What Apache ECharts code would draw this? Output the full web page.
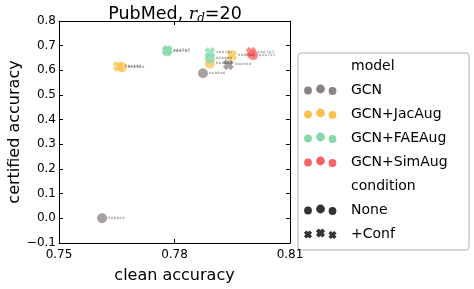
<!DOCTYPE html>
<html><head><meta charset="utf-8">
<script src="https://cdn.jsdelivr.net/npm/echarts@6/dist/echarts.min.js"></script>
<style>html,body{margin:0;padding:0;background:#fff}#c{width:474px;height:289px}</style>
</head><body><div id="c"></div>
<script>
const models = ['GCN','GCN+JacAug','GCN+FAEAug','GCN+SimAug'];
const modelColors = ['#8c8282','#fbc14d','#84d8aa','#f86464'];
const conditions = ['None','+Conf'];
// [clean accuracy, certified accuracy]
const gcnNone = [[0.7612,0.0],[0.7874,0.588]];
const gcnConf = [[0.7940,0.623]];
const jacNone = [[0.7664,0.612],[0.7892,0.627]];
const jacConf = [[0.7654,0.616],[0.7949,0.660]];
const faeNone = [[0.7781,0.677],[0.7892,0.648]];
const faeConf = [[0.7781,0.681],[0.7892,0.672]];
const simNone = [[0.8004,0.661]];
const simConf = [[0.7999,0.673]];
const xTicks = [0.75,0.78,0.81];
const yTicks = [-0.1,0.0,0.1,0.2,0.3,0.4,0.5,0.6,0.7,0.8];

const XPTS = [[0,3],[3,0],[5,2],[7,0],[10,3],[8,5],[10,7],[7,10],[5,8],[3,10],[0,7],[2,5]];
const XPATH = 'path://M' + XPTS.map(p=>p[0]+' '+p[1]).join(' L') + ' Z';
const groups = [
  [gcnNone,0,0],[gcnConf,0,1],[jacNone,1,0],[jacConf,1,1],
  [faeNone,2,0],[faeConf,2,1],[simNone,3,0],[simConf,3,1]
];
const F = 'DejaVu Sans';
const series = groups.map(([d,m,c]) => ({
  type:'scatter', data:d, xAxisIndex:0, yAxisIndex:0,
  symbol: c===0 ? 'circle' : XPATH,
  symbolSize: c===0 ? 10 : 11,
  itemStyle:{color:modelColors[m], opacity:0.75},
  label:{show:true, position:'right', distance:1, fontSize:3, color:'#000', fontFamily:F,
    formatter:p=>p.value[0].toFixed(1)+','+p.value[1].toFixed(1)+'.'+p.value[1].toFixed(1)}
}));

const axisBase = {
  type:'value', splitLine:{show:false},
  axisLine:{show:true, onZero:false, lineStyle:{color:'#000', width:1}},
  axisTick:{show:true, inside:true, length:4, lineStyle:{color:'#000'}}
};
const fmtMinus = v => (v<0?'\u2212':'') + Math.abs(v).toFixed(1);

const graphic = [];
const lx = 298, ly = 53, lw = 171, lh = 197;
graphic.push({type:'rect', shape:{x:lx,y:ly,width:lw,height:lh,r:3}, style:{fill:'#fff',stroke:'#b0b0b0',lineWidth:1}});
const rowY = [66,90,114,138,162,186,210,234];
const txt = (t,y) => ({type:'text', x:351, y:y, style:{text:t, fill:'#000', font:'14px "DejaVu Sans"', verticalAlign:'middle'}});
const markerX = [308,320.5,332.5], markerDy = [0.5,-1,1], markerR = [3.9,4.4,3.9];
function markers(y, color, isX){
  markerX.forEach((x,i)=>{
    if(!isX) graphic.push({type:'circle', shape:{cx:x, cy:y+markerDy[i], r:markerR[i]}, style:{fill:color}});
    else {
      const s = markerR[i]*2.1/10;
      const pts = XPTS.map(p=>[x + (p[0]-5)*s, y+markerDy[i] + (p[1]-5)*s]);
      graphic.push({type:'polygon', shape:{points:pts}, style:{fill:color}});
    }
  });
}
graphic.push(txt('model', rowY[0]));
models.forEach((m,i)=>{ markers(rowY[i+1], modelColors[i], false); graphic.push(txt(m,rowY[i+1])); });
graphic.push(txt('condition', rowY[5]));
conditions.forEach((c,i)=>{ markers(rowY[6+i], '#333333', i===1); graphic.push(txt(c,rowY[6+i])); });

const chart = echarts.init(document.getElementById('c'), null, {renderer:'canvas'});
chart.setOption({
  animation:false,
  backgroundColor:'#fff',
  title:{
    text:'{n|PubMed, }{i|r}{s|d}{n|=20}', left:170, textAlign:'center', top:-2,
    textStyle:{fontWeight:'normal', rich:{
      n:{fontFamily:F, fontSize:17.5, fontWeight:'normal', color:'#000'},
      i:{fontFamily:'DejaVu Serif', fontStyle:'italic', fontWeight:'normal', fontSize:17.5, color:'#000'},
      s:{fontFamily:'DejaVu Serif', fontStyle:'italic', fontWeight:'normal', fontSize:12, color:'#000', padding:[10,0,0,0]}
    }}
  },
  grid:{left:59, right:184, top:21, bottom:41, containLabel:false},
  xAxis:[
    Object.assign({}, axisBase, {position:'bottom', min:xTicks[0], max:xTicks[xTicks.length-1], interval:0.03,
      name:'clean accuracy', nameLocation:'middle', nameGap:25,
      nameTextStyle:{fontFamily:F, fontSize:16, color:'#000'},
      axisLabel:{fontFamily:F, fontSize:12, color:'#000', margin:6, formatter:v=>v.toFixed(2), showMaxLabel:true, showMinLabel:true}}),
    Object.assign({}, axisBase, {position:'top', min:xTicks[0], max:xTicks[xTicks.length-1], interval:0.03, axisLabel:{show:false}})
  ],
  yAxis:[
    Object.assign({}, axisBase, {position:'left', min:yTicks[0], max:yTicks[yTicks.length-1], interval:0.1,
      name:'certified accuracy', nameLocation:'middle', nameGap:34,
      nameTextStyle:{fontFamily:F, fontSize:16, color:'#000'},
      axisLabel:{fontFamily:F, fontSize:12, color:'#000', margin:3, formatter:fmtMinus}}),
    Object.assign({}, axisBase, {position:'right', min:yTicks[0], max:yTicks[yTicks.length-1], interval:0.1, axisLabel:{show:false}})
  ],
  series: series,
  graphic: graphic
});
</script></body></html>
